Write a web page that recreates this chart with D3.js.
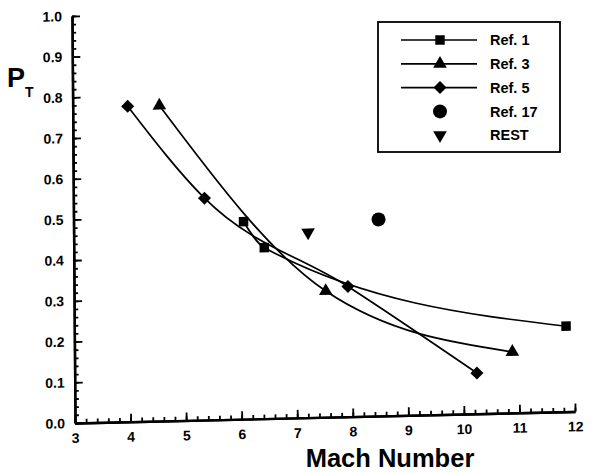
<!DOCTYPE html>
<html>
<head>
<meta charset="utf-8">
<script src="https://cdn.jsdelivr.net/npm/d3@7"></script>
<style>
  body { margin: 0; background: #fff; }
  text { font-family: "Liberation Sans", Arial, sans-serif; font-weight: bold; fill: #000; }
</style>
</head>
<body>
<svg id="chart"></svg>
<script>
let width = 599;
let height = 473;

// data
let ref1Mach = [6.06, 6.43, 11.85];
let ref1Pt = [0.485, 0.42, 0.21];
let ref3Mach = [4.56, 7.53, 10.88];
let ref3Pt = [0.775, 0.31, 0.15];
let ref5Mach = [3.99, 5.36, 7.93, 10.24];
let ref5Pt = [0.775, 0.545, 0.32, 0.10];
let ref17Mach = [8.49];
let ref17Pt = [0.483];
let restMach = [7.22];
let restPt = [0.455];

let xTicks = [3, 4, 5, 6, 7, 8, 9, 10, 11, 12];
let yTicks = [0, 0.1, 0.2, 0.3, 0.4, 0.5, 0.6, 0.7, 0.8, 0.9, 1.0];
let legendLabels = ["Ref. 1", "Ref. 3", "Ref. 5", "Ref. 17", "REST"];

let plotW = 500;
let plotH = 407;

let zip = (xs, ys) => xs.map((x, i) => ({ m: x, p: ys[i] }));

let series = [
  { name: "Ref. 1", pts: zip(ref1Mach, ref1Pt), sym: "square", line: true },
  { name: "Ref. 3", pts: zip(ref3Mach, ref3Pt), sym: "triangle", line: true },
  { name: "Ref. 5", pts: zip(ref5Mach, ref5Pt), sym: "diamond", line: true },
  { name: "Ref. 17", pts: zip(ref17Mach, ref17Pt), sym: "circle", line: false },
  { name: "REST", pts: zip(restMach, restPt), sym: "down", line: false }
];

let xScale = d3.scaleLinear().domain([3, 12]).range([0, plotW]);
let yScale = d3.scaleLinear().domain([0, 1]).range([plotH, 0]);

let svg = d3.select("#chart")
  .attr("width", width)
  .attr("height", height);

// the scanned figure is slightly sheared, so the plot frame is too
let plot = svg.append("g")
  .attr("transform", "matrix(1,-0.023,0.0074,1,72,16)");

function marker(sel, sym) {
  if (sym === "square") {
    sel.append("path").attr("d", d3.symbol(d3.symbolSquare, 90)());
  } else if (sym === "diamond") {
    sel.append("path").attr("d", d3.symbol(d3.symbolSquare, 85)()).attr("transform", "rotate(45)");
  } else if (sym === "triangle") {
    sel.append("path").attr("d", d3.symbol(d3.symbolTriangle, 80)());
  } else if (sym === "down") {
    sel.append("path").attr("d", d3.symbol(d3.symbolTriangle, 80)()).attr("transform", "rotate(180)");
  } else {
    sel.append("circle").attr("r", 7);
  }
}

// axes, ticks point inward
let xAxis = d3.axisBottom(xScale).tickValues(xTicks).tickSizeOuter(0).tickPadding(10)
  .tickFormat(d3.format("d"));
let xMinor = d3.axisBottom(xScale).tickValues(d3.range(3, 12.01, 0.2)).tickSizeOuter(0).tickFormat("");
let yAxis = d3.axisLeft(yScale).tickValues(yTicks).tickSizeOuter(0).tickPadding(10)
  .tickFormat(d3.format(".1f"));
let yMinor = d3.axisLeft(yScale).tickValues(d3.range(0, 1.001, 0.02)).tickSizeOuter(0).tickFormat("");

[[xMinor, true, 4], [xAxis, true, 8], [yMinor, false, 4], [yAxis, false, 8]].forEach(([ax, isX, len]) => {
  let g = plot.append("g");
  if (isX) g.attr("transform", "translate(0," + plotH + ")");
  g.call(ax);
  g.select(".domain").attr("stroke", "#000").attr("stroke-width", 2.4);
  g.selectAll(".tick line")
    .attr("stroke", "#000")
    .attr("stroke-width", 1.8)
    .attr(isX ? "y2" : "x2", isX ? -len : len);
  g.selectAll("text")
    .attr(isX ? "y" : "x", isX ? 10 : -10)
    .style("font-size", "14px")
    .style("font-family", null);
});

// curves
let line = d3.line()
  .x(d => xScale(d.m))
  .y(d => yScale(d.p))
  .curve(d3.curveMonotoneX);

plot.selectAll(".curve")
  .data(series.filter(s => s.line))
  .enter()
  .append("path")
  .attr("class", "curve")
  .attr("d", d => line(d.pts))
  .attr("fill", "none")
  .attr("stroke", "#000")
  .attr("stroke-width", 1.7);

series.forEach(s => {
  plot.selectAll(null)
    .data(s.pts)
    .enter()
    .append("g")
    .attr("transform", d => "translate(" + xScale(d.m) + "," + yScale(d.p) + ")")
    .each(function() { marker(d3.select(this), s.sym); });
});

// axis titles
svg.append("text")
  .attr("x", 7)
  .attr("y", 87)
  .style("font-size", "27px")
  .text("P");
svg.append("text")
  .attr("x", 25)
  .attr("y", 97)
  .style("font-size", "14px")
  .text("T");

svg.append("text")
  .attr("x", 390)
  .attr("y", 467)
  .style("text-anchor", "middle")
  .style("font-size", "25.5px")
  .text("Mach Number");

// legend
let legend = svg.append("g").attr("transform", "translate(378,22)");
legend.append("rect")
  .attr("width", 182)
  .attr("height", 130)
  .attr("fill", "#fff")
  .attr("stroke", "#000")
  .attr("stroke-width", 1.8);

let rows = legend.selectAll(".row")
  .data(series)
  .enter()
  .append("g")
  .attr("transform", (d, i) => "translate(0," + (18 + i * 23.8) + ")");

rows.filter(d => d.line)
  .append("line")
  .attr("x1", 23).attr("x2", 99)
  .attr("stroke", "#000")
  .attr("stroke-width", 1.7);

rows.append("g")
  .attr("transform", "translate(62,0)")
  .each(function(d) { marker(d3.select(this), d.sym); });

rows.append("text")
  .attr("x", 112)
  .attr("dy", "0.36em")
  .style("font-size", "14.5px")
  .text((d, i) => legendLabels[i]);
</script>
</body>
</html>
